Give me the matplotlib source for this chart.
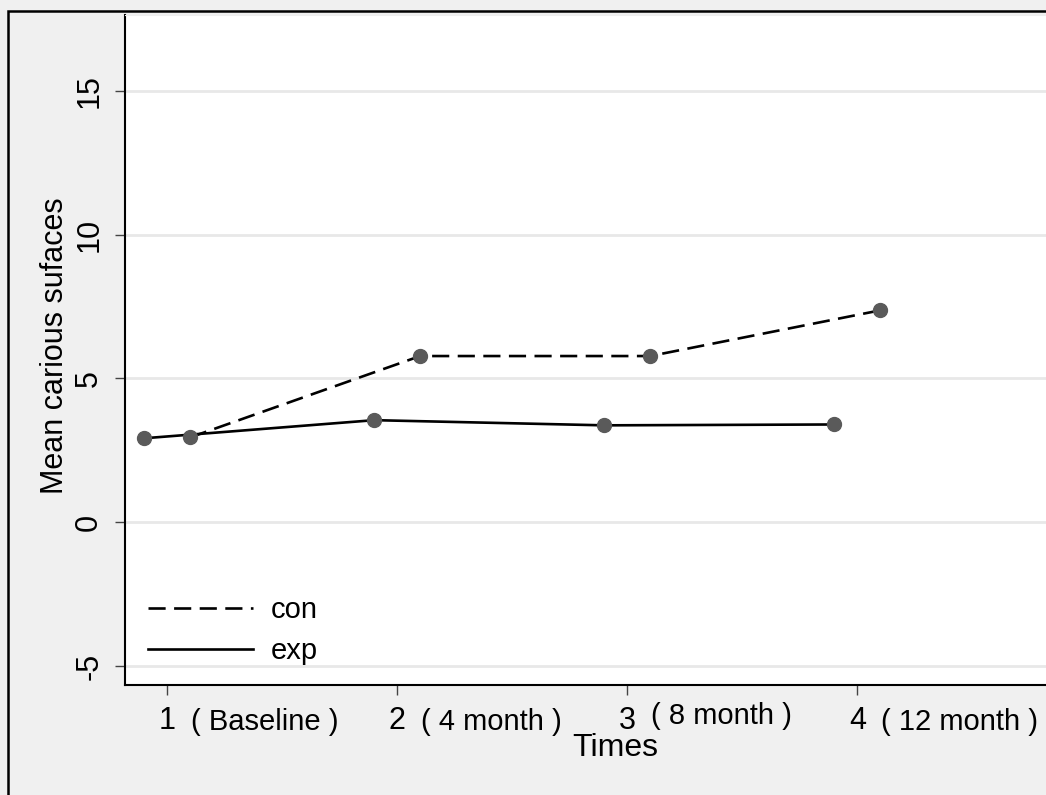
import numpy as np
import matplotlib
matplotlib.use("Agg")
import matplotlib.pyplot as plt
from matplotlib.patches import Rectangle

# data
times = np.array([1, 2, 3, 4])
time_names = ['( Baseline )', '( 4 month )', '( 8 month )', '( 12 month )']
con = [2.95, 5.78, 5.78, 7.37]
exp = [2.92, 3.55, 3.37, 3.40]

plt.rcParams['font.family'] = ['Liberation Sans', 'DejaVu Sans']
plt.rcParams['axes.unicode_minus'] = False
fs = 21

fig = plt.figure(figsize=(10.46, 7.95), dpi=100, facecolor='#f0f0f0')
ax = fig.add_axes([125/1046, 110/795, 921/1046, 670/795])
ax.set_facecolor('white')

# outer frame (cropped on the right and bottom)
fig.patches.append(Rectangle((8/1046, -0.1), 1.2, (795-11)/795 + 0.1,
                             transform=fig.transFigure, fill=False,
                             edgecolor='black', linewidth=1.8))

off = 0.1  # the two groups are drawn side by side
ax.plot(times + off, con, color='black', lw=1.9, dashes=(6.5, 3.2), label='con', zorder=3)
ax.plot(times - off, exp, color='black', lw=1.9, label='exp', zorder=3)
ax.scatter(times + off, con, s=100, color='#5a5a5a', zorder=4)
ax.scatter(times - off, exp, s=100, color='#5a5a5a', zorder=4)

ax.set_xlim(0.817, 4.82)
ax.set_ylim(-5.66, 17.64)
ax.set_yticks([-5, 0, 5, 10, 15])
ax.set_xticks(times)
ax.yaxis.grid(True, color='#e8e8e8', lw=2)
ax.set_axisbelow(True)

ax.spines['right'].set_visible(False)
ax.spines['top'].set_color('#eeeeee')
ax.spines['left'].set_linewidth(1.5)
ax.spines['bottom'].set_linewidth(1.5)

ax.tick_params(axis='both', labelsize=fs + 1, length=7, width=1, color='#444444')
ax.tick_params(axis='x', pad=8)
ax.tick_params(axis='y', pad=8, labelrotation=90)
for lab in ax.get_yticklabels():
    lab.set_va('center')

for t, name in zip(times, time_names):
    dy = -0.047 if '8' in name else -0.055
    ax.text(t + 0.105, dy, name, transform=ax.get_xaxis_transform(),
            ha='left', va='center', fontsize=fs)

ax.set_xlabel('Times', fontsize=fs + 2)
ax.xaxis.set_label_coords(0.532, -0.072)
ax.set_ylabel('Mean carious sufaces', fontsize=fs + 1)
ax.yaxis.set_label_coords(-0.06, 0.507)

ax.legend(loc='lower left', bbox_to_anchor=(-0.003, -0.01), frameon=False, fontsize=fs,
          handlelength=3.6, handletextpad=0.6, labelspacing=0.45)

fig.savefig('out.png', dpi=100, facecolor=fig.get_facecolor())
